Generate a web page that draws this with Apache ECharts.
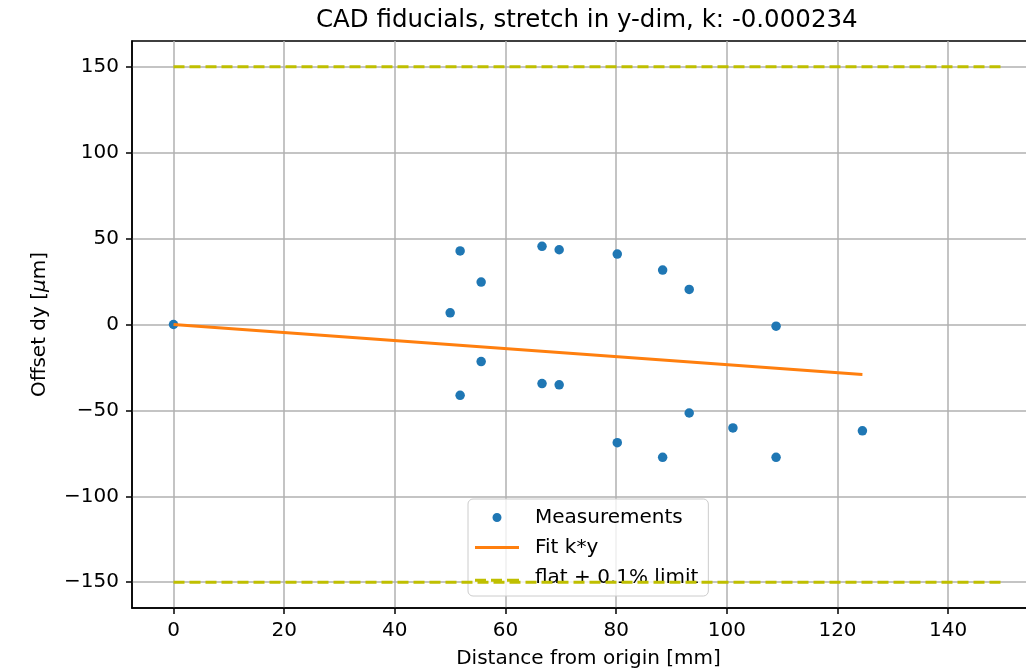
<!DOCTYPE html>
<html>
<head>
<meta charset="utf-8">
<script src="https://cdn.jsdelivr.net/npm/echarts@6/dist/echarts.min.js"></script>
<style>html,body{margin:0;padding:0;background:#fff}#c{width:1026px;height:672px}</style>
</head>
<body>
<div id="c"></div>
<script>
const titleText = 'CAD fiducials, stretch in y-dim, k: -0.000234';
const measX = [0, 51.8, 55.6, 50.0, 55.6, 51.8, 66.6, 69.7, 66.6, 69.7, 80.2, 88.4, 93.2, 108.9, 80.2, 88.4, 93.2, 101.1, 108.9, 124.5];
const measY = [0, 42.8, 24.7, 6.8, -21.6, -41.2, 45.5, 43.5, -34.4, -35.1, 41.0, 31.7, 20.4, -1.0, -68.8, -77.3, -51.5, -60.2, -77.3, -61.9];
const fitX = [0, 124.5];
const fitY = [0, -29.1];
const limitX = [0, 150];
const limitUpper = [150, 150];
const limitLower = [-150, -150];
const xTicks = [0, 20, 40, 60, 80, 100, 120, 140];
const yTicks = [-150, -100, -50, 0, 50, 100, 150];
const seriesNames = ['Measurements', 'Fit k*y', 'flat + 0.1% limit'];

const zip = (a, b) => a.map((v, i) => [v, b[i]]);
const FONT = 'DejaVu Sans';
const chart = echarts.init(document.getElementById('c'), null, {renderer: 'canvas'});
const fmt = v => String(v).replace('-', '\u2212');

chart.setOption({
  animation: false,
  backgroundColor: '#ffffff',
  title: {
    text: titleText, left: 316, top: 8, padding: 0,
    textStyle: {fontFamily: FONT, fontSize: 24.5, fontWeight: 'normal', color: '#000'}
  },
  grid: {left: 132, top: 41, right: -19, bottom: 64, show: true, borderColor: '#000', borderWidth: 1.5,
         containLabel: false, outerBoundsMode: 'none'},
  legend: {
    left: 468, top: 499, orient: 'vertical',
    padding: [7, 10, 7, 7], itemGap: 7, itemWidth: 44, itemHeight: 14,
    backgroundColor: 'rgba(255,255,255,0.8)', borderColor: '#cccccc', borderWidth: 1, borderRadius: 5,
    textStyle: {fontFamily: FONT, fontSize: 20, color: '#000', lineHeight: 23, padding: [0, 0, 0, 11]},
    data: [
      {name: seriesNames[0], icon: 'path://M0,0L0.01,0M14,14L14.01,14M11.5,7A4.5,4.5,0,1,1,2.5,7A4.5,4.5,0,1,1,11.5,7Z'},
      {name: seriesNames[1], icon: 'path://M0,5.5L44,5.5L44,8.5L0,8.5Z'},
      {name: seriesNames[2], icon: 'path://M0,5.5h11v3h-11zM16,5.5h11v3h-11zM32,5.5h12v3h-12zM0,0L0.01,0'}
    ]
  },
  xAxis: {
    type: 'value', min: -7.5, max: 157.5,
    name: 'Distance from origin [mm]', nameLocation: 'middle', nameGap: 41,
    nameTextStyle: {fontFamily: FONT, fontSize: 20, color: '#000'},
    axisLine: {show: true, onZero: false, lineStyle: {color: '#000', width: 1.5}},
    axisTick: {show: true, inside: false, length: 6, lineStyle: {color: '#000', width: 1.5}, customValues: xTicks},
    axisLabel: {fontFamily: FONT, fontSize: 20, color: '#000', margin: 13, customValues: xTicks, formatter: fmt},
    splitLine: {show: true, lineStyle: {color: '#b0b0b0', width: 1.5}}
  },
  yAxis: {
    type: 'value', min: -165, max: 165,
    name: 'Offset dy [{i|\u03bc}m]', nameLocation: 'middle', nameGap: 82,
    nameTextStyle: {fontFamily: FONT, fontSize: 20, color: '#000', rich: {i: {fontFamily: FONT, fontSize: 20, fontStyle: 'italic', color: '#000'}}},
    axisLine: {show: true, onZero: false, lineStyle: {color: '#000', width: 1.5}},
    axisTick: {show: true, inside: false, length: 6, lineStyle: {color: '#000', width: 1.5}, customValues: yTicks},
    axisLabel: {fontFamily: FONT, fontSize: 20, color: '#000', margin: 13, customValues: yTicks, formatter: fmt},
    splitLine: {show: true, lineStyle: {color: '#b0b0b0', width: 1.5}}
  },
  series: [
    {
      name: seriesNames[0], type: 'scatter', data: zip(measX, measY),
      symbol: 'circle', symbolSize: 9.5, itemStyle: {color: '#1f77b4', opacity: 1}, z: 3
    },
    {
      name: seriesNames[1], type: 'line', data: zip(fitX, fitY), showSymbol: false, symbol: 'none',
      lineStyle: {color: '#ff7f0e', width: 3}, itemStyle: {color: '#ff7f0e'}, z: 4
    },
    {
      name: seriesNames[2], type: 'line', data: zip(limitX, limitUpper), showSymbol: false, symbol: 'none',
      lineStyle: {color: '#bfbf00', width: 3, type: [11, 5]}, itemStyle: {color: '#bfbf00'}, z: 4
    },
    {
      name: seriesNames[2], type: 'line', data: zip(limitX, limitLower), showSymbol: false, symbol: 'none',
      lineStyle: {color: '#bfbf00', width: 3, type: [11, 5]}, itemStyle: {color: '#bfbf00'}, z: 4
    }
  ]
});
</script>
</body>
</html>
